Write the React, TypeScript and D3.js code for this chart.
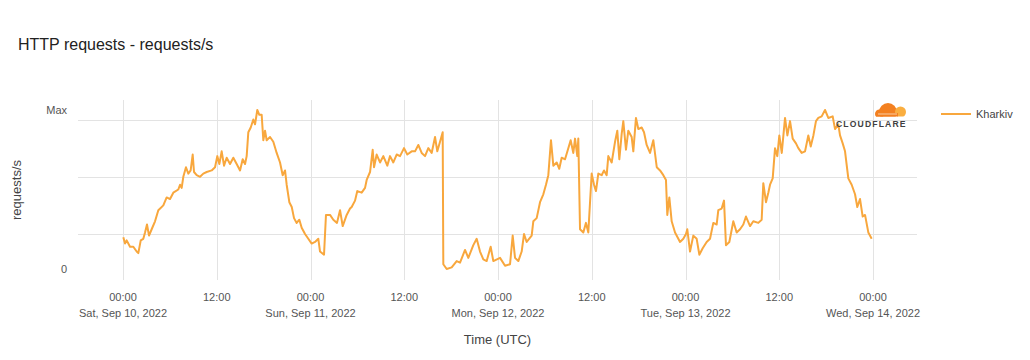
import React from "react";
import * as d3 from "d3";

// ---- data (hours since Sat, Sep 10 2022 00:00 UTC, requests as % of max) ----
const startUtc = Date.UTC(2022, 8, 10, 0, 0, 0);
const spanHours = 96;

const hours: number[] = [
  0.04, 0.26, 0.47, 0.9, 1.32, 1.75, 1.96, 2.27, 2.6, 2.82, 3.07, 3.33, 3.67, 4.1, 4.52, 5.16, 5.59, 6.02, 6.44, 7.08,
  7.3, 7.51, 7.72, 8.06, 8.36, 8.66, 8.92, 9.09, 9.43, 9.86, 10.28, 10.71, 11.35, 11.78, 12.07, 12.33, 12.63, 12.93, 13.27, 13.7,
  14.12, 14.55, 14.98, 15.32, 15.62, 15.83, 16.04, 16.35, 16.68, 16.9, 17.19, 17.45, 17.75, 17.96, 18.18, 18.39, 18.82, 19.24, 19.67, 20.1,
  20.44, 20.74, 20.95, 21.29, 21.6, 21.89, 22.23, 22.57, 22.87, 23.3, 23.72, 24.15, 24.58, 25.0, 25.22, 25.73, 25.98, 26.5, 26.92, 27.39,
  27.78, 28.12, 28.63, 29.06, 29.27, 29.7, 29.99, 30.55, 30.98, 31.19, 31.62, 31.96, 32.13, 32.47, 32.9, 33.32, 33.83, 34.18, 34.6, 35.03,
  35.46, 35.97, 36.39, 36.95, 37.38, 37.8, 38.23, 38.66, 39.08, 39.51, 39.94, 40.23, 40.58, 40.92, 41.0, 41.43, 42.07, 42.71, 43.14, 43.78,
  44.2, 44.84, 45.27, 45.7, 46.12, 46.55, 47.06, 47.4, 48.26, 48.9, 49.54, 49.88, 50.18, 50.6, 51.03, 51.33, 51.67, 52.31, 52.52, 52.95,
  53.38, 53.8, 54.14, 54.44, 54.78, 55.08, 55.51, 55.84, 56.15, 56.58, 57.0, 57.3, 57.64, 57.86, 58.15, 58.28, 58.5, 58.92, 59.26, 59.56,
  59.78, 59.99, 60.29, 60.54, 60.84, 61.27, 61.57, 61.91, 62.12, 62.55, 62.98, 63.27, 63.53, 63.83, 64.04, 64.38, 64.68, 65.11, 65.32, 65.66,
  65.96, 66.39, 66.69, 67.03, 67.46, 67.88, 68.32, 68.74, 69.16, 69.5, 69.67, 69.93, 70.23, 70.66, 71.3, 71.72, 72.06, 72.23, 72.58, 73.0,
  73.43, 73.77, 74.2, 74.71, 75.14, 75.56, 75.99, 76.2, 76.63, 76.93, 77.18, 77.61, 78.12, 78.55, 78.98, 79.4, 79.74, 80.26, 80.68, 81.32,
  81.75, 81.96, 82.3, 82.6, 82.82, 83.16, 83.46, 83.75, 84.01, 84.32, 84.74, 85.04, 85.38, 85.72, 86.14, 86.44, 86.87, 87.3, 87.72, 88.03,
  88.37, 88.7, 89.0, 89.43, 89.86, 90.28, 90.84, 91.14, 91.56, 91.78, 92.12, 92.42, 92.84, 93.27, 93.7, 93.99, 94.34, 94.68, 94.98, 95.4,
  95.83,
];

const kharkiv: number[] = [
  20, 16, 18, 14, 14, 11, 10, 18, 19, 23, 28, 21, 25, 30, 37, 40, 45, 44, 48, 50,
  53, 51, 58, 64, 60, 62, 72, 61, 59, 58, 60, 61, 62, 64, 71, 66, 74, 65, 70, 66,
  70, 66, 62, 69, 66, 71, 86, 89, 94, 91, 100, 97, 97, 81, 87, 81, 83, 80, 73, 67,
  59, 62, 53, 42, 39, 32, 29, 31, 26, 22, 19, 16, 17, 19, 11, 9, 34, 34, 31, 29,
  37, 27, 34, 38, 39, 43, 49, 48, 51, 56, 61, 75, 64, 72, 67, 71, 65, 71, 67, 72,
  71, 76, 72, 74, 74, 78, 73, 71, 76, 73, 83, 74, 80, 86, 3, 0, 1, 5, 4, 12,
  7, 15, 19, 11, 6, 5, 14, 5, 7, 2, 3, 21, 7, 5, 11, 22, 17, 21, 30, 32,
  42, 47, 53, 59, 81, 65, 67, 63, 70, 69, 76, 81, 73, 82, 71, 82, 25, 23, 29, 23,
  42, 60, 53, 49, 60, 59, 62, 59, 71, 67, 80, 87, 69, 85, 93, 75, 87, 83, 74, 95,
  88, 89, 86, 78, 73, 81, 64, 62, 59, 56, 34, 45, 30, 23, 17, 19, 22, 25, 11, 21,
  19, 9, 13, 17, 19, 29, 28, 37, 38, 43, 15, 17, 30, 23, 25, 28, 33, 27, 30, 29,
  31, 54, 42, 48, 53, 57, 76, 71, 84, 73, 95, 84, 93, 82, 79, 76, 73, 74, 84, 77,
  84, 93, 95, 96, 100, 95, 96, 88, 91, 84, 79, 74, 57, 53, 47, 39, 44, 33, 34, 23,
  19,
];

const yTickLabels: { value: number; label: string }[] = [
  { value: 100, label: "Max" },
  { value: 0, label: "0" },
];
const yGridValues: number[] = [22, 58, 94];
const seriesName = "Kharkiv";

// ---- layout ----
const W = 1030;
const H = 360;
const plotLeft = 78;
const plotRight = 917;
const plotTop = 100;
const plotBottom = 280;
const lineColor = "#f8a73d";
const gridColor = "#e3e3e3";
const font = "'Liberation Sans', Arial, Helvetica, sans-serif";

export default function App() {
  const startDate = new Date(startUtc);
  const endDate = new Date(startUtc + spanHours * 3600e3);
  const x = d3.scaleUtc().domain([startDate, endDate]).range([123, 873]);
  const y = d3.scaleLinear().domain([0, 100]).range([269, 110]);

  const points: [Date, number][] = hours.map((h, i) => [new Date(startUtc + h * 3600e3), kharkiv[i]]);
  const line = d3
    .line<[Date, number]>()
    .x((d) => x(d[0]))
    .y((d) => y(d[1]));

  const ticks = x.ticks(d3.utcHour.every(12)!);
  const fmtTime = d3.utcFormat("%H:%M");
  const fmtDate = d3.utcFormat("%a, %b %d, %Y");

  return (
    <div style={{ position: "absolute", left: 0, top: 0 }}>
      <svg width={W} height={H} style={{ display: "block", fontFamily: font }}>
        <rect width={W} height={H} fill="#fff" />
        <text x={18} y={50} fontSize={16} fill="#222">
          HTTP requests - requests/s
        </text>

        {/* grid */}
        {ticks.map((t, i) => (
          <line key={"v" + i} x1={Math.round(x(t)) + 0.5} x2={Math.round(x(t)) + 0.5} y1={plotTop} y2={plotBottom} stroke={gridColor} strokeWidth={1} />
        ))}
        {yGridValues.map((v, i) => (
          <line key={"h" + i} x1={plotLeft} x2={plotRight} y1={Math.round(y(v)) + 0.5} y2={Math.round(y(v)) + 0.5} stroke={gridColor} strokeWidth={1} />
        ))}

        {/* y labels */}
        {yTickLabels.map((t, i) => (
          <text key={"yl" + i} x={67} y={y(t.value) + 4} fontSize={11} fill="#555" textAnchor="end">
            {t.label}
          </text>
        ))}
        <text transform={`translate(21,190) rotate(-90)`} fontSize={13} fill="#444" textAnchor="middle">
          requests/s
        </text>

        {/* x labels */}
        {ticks.map((t, i) => {
          const isMidnight = t.getUTCHours() === 0;
          return (
            <g key={"xl" + i} transform={`translate(${x(t)},0)`}>
              <text y={301} fontSize={11} fill="#555" textAnchor="middle">
                {fmtTime(t)}
              </text>
              {isMidnight && (
                <text y={317} fontSize={11} fill="#555" textAnchor="middle">
                  {fmtDate(t)}
                </text>
              )}
            </g>
          );
        })}
        <text x={(plotLeft + plotRight) / 2} y={344} fontSize={13} fill="#444" textAnchor="middle">
          Time (UTC)
        </text>

        {/* series */}
        <path d={line(points) || ""} fill="none" stroke={lineColor} strokeWidth={2} strokeLinejoin="round" />

        {/* cloudflare logo */}
        <g>
          <clipPath id="cloudClip">
            <rect x={860} y={95} width={60} height={21.5} />
          </clipPath>
          <g clipPath="url(#cloudClip)">
            <circle cx={888} cy={112} r={9} fill="#f38020" />
            <circle cx={879.5} cy={114} r={4.5} fill="#f38020" />
            <circle cx={900.5} cy={112} r={5.5} fill="#faae40" />
            <rect x={876} y={113} width={22} height={4} fill="#f38020" />
            <path d="M878,114 L897,114" stroke="#fff" strokeWidth={0.6} />
          </g>
          <text x={836} y={126.5} fontSize={8.6} fontWeight="bold" fill="#404041" letterSpacing={1.15}>
            CLOUDFLARE
          </text>
        </g>

        {/* legend */}
        <line x1={941} x2={971} y1={114} y2={114} stroke={lineColor} strokeWidth={2} />
        <text x={976} y={118} fontSize={11} fill="#444">
          {seriesName}
        </text>
      </svg>
    </div>
  );
}
